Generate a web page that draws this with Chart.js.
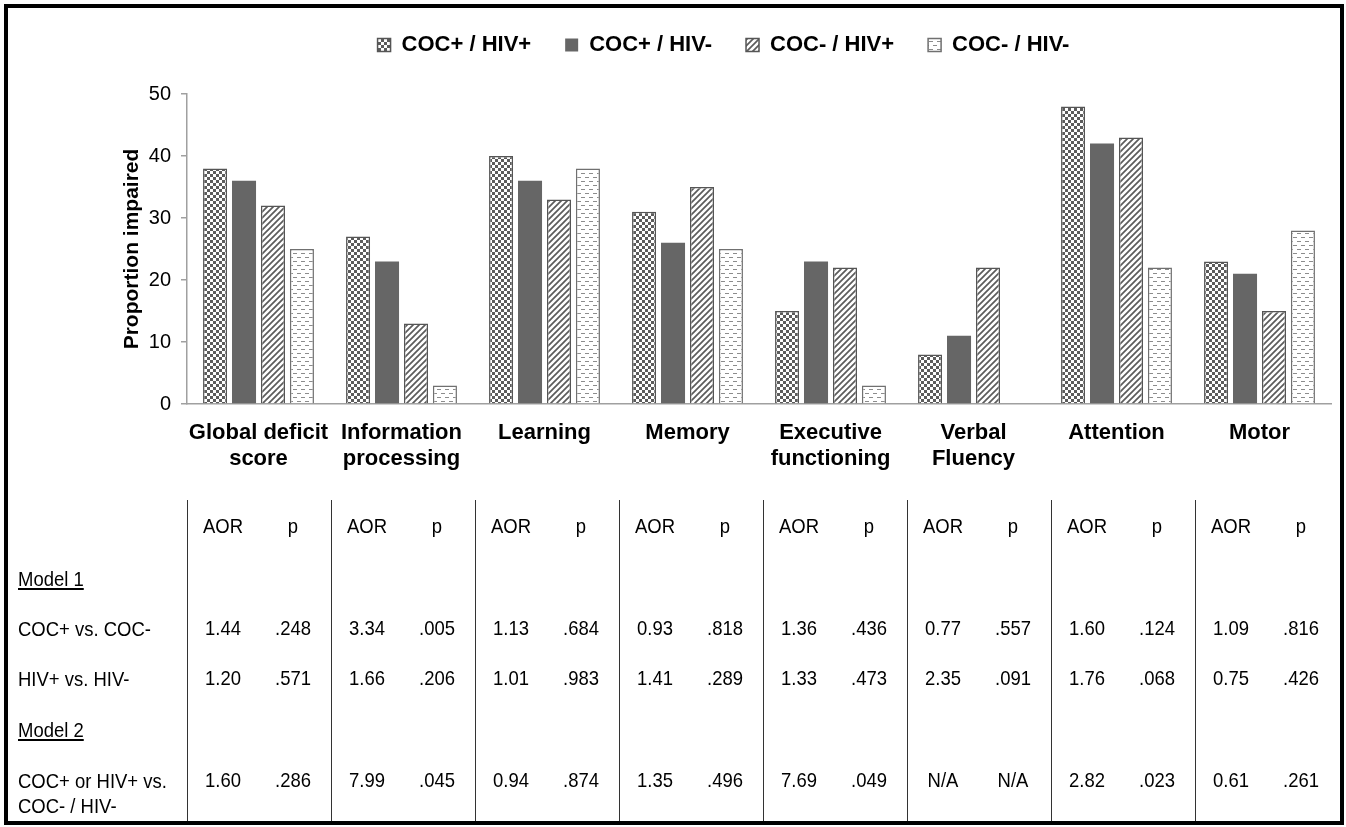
<!DOCTYPE html>
<html>
<head>
<meta charset="utf-8">
<script src="https://cdn.jsdelivr.net/npm/chart.js@4.4.0/dist/chart.umd.min.js"></script>
<style>
  html, body { margin: 0; padding: 0; background: #fff; }
  #page { position: relative; width: 1346px; height: 827px; overflow: hidden; }
  #frame { position: absolute; left: 4px; top: 4px; width: 1340px; height: 821px; box-sizing: border-box; border: 4px solid #000; }
  #chartBox { position: absolute; left: 0; top: 0; width: 1346px; height: 490px; }
  #table { position: absolute; left: 0; top: 0; width: 1346px; height: 827px;
           font-family: 'Liberation Sans', Arial, sans-serif;
           font-size: 21px; color: #000; }
  .vline { position: absolute; width: 1px; background: #333; top: 500px; height: 322px; }
  .cell { position: absolute; width: 72px; text-align: center; line-height: 24px; margin-top: -12px; transform: scaleX(0.88); }
  .rowlabel { position: absolute; left: 18px; line-height: 25px; margin-top: -12px; white-space: nowrap;
              transform: scaleX(0.88); transform-origin: left center; }
  .u { text-decoration: underline; }
</style>
</head>
<body>
<div id="page">
  <div id="chartBox"><canvas id="chart"></canvas></div>
  <div id="table"></div>
  <div id="frame"></div>
</div>
<script>
// bar chart data
const categories = [
  ['Global deficit', 'score'], ['Information', 'processing'], 'Learning', 'Memory',
  ['Executive', 'functioning'], ['Verbal', 'Fluency'], 'Attention', 'Motor'
];
const seriesNames = ['COC+ / HIV+', 'COC+ / HIV-', 'COC- / HIV+', 'COC- / HIV-'];
const cocPosHivPos = [38, 27, 40, 31, 15, 8, 48, 23];
const cocPosHivNeg = [36, 23, 36, 26, 23, 11, 42, 21];
const cocNegHivPos = [32, 13, 33, 35, 22, 22, 43, 15];
const cocNegHivNeg = [25, 3, 38, 25, 3, null, 22, 28];
const yTicks = [0, 10, 20, 30, 40, 50];

// table data
const colHeads = ['AOR', 'p'];
const rowLabels = ['COC+ vs. COC-', 'HIV+ vs. HIV-', 'COC+ or HIV+ vs.<br>COC- / HIV-'];
const cocAor = ['1.44', '3.34', '1.13', '0.93', '1.36', '0.77', '1.60', '1.09'];
const cocP = ['.248', '.005', '.684', '.818', '.436', '.557', '.124', '.816'];
const hivAor = ['1.20', '1.66', '1.01', '1.41', '1.33', '2.35', '1.76', '0.75'];
const hivP = ['.571', '.206', '.983', '.289', '.473', '.091', '.068', '.426'];
const anyAor = ['1.60', '7.99', '0.94', '1.35', '7.69', 'N/A', '2.82', '0.61'];
const anyP = ['.286', '.045', '.874', '.496', '.049', 'N/A', '.023', '.261'];

const DARK = '#5c5c5c';

function makePattern(kind) {
  const c = document.createElement('canvas');
  const g = c.getContext('2d');
  c.width = kind === 'dash' ? 8 : 6;
  c.height = kind === 'dash' ? 8 : 6;
  g.fillStyle = '#fff';
  g.fillRect(0, 0, c.width, c.height);
  if (kind === 'check') {
    g.fillStyle = DARK;
    g.fillRect(0, 0, 3, 3);
    g.fillRect(3, 3, 3, 3);
  } else if (kind === 'hatch') {
    g.strokeStyle = DARK;
    g.lineWidth = 1.7;
    g.beginPath();
    g.moveTo(-1, 7); g.lineTo(7, -1);
    g.moveTo(-4, 4); g.lineTo(4, -4);
    g.moveTo(2, 10); g.lineTo(10, 2);
    g.stroke();
  } else if (kind === 'dash') {
    g.fillStyle = '#8c8c8c';
    g.fillRect(1, 1, 4, 1);
    g.fillRect(5, 5, 3, 1);
    g.fillRect(0, 5, 1, 1);
  }
  return g.createPattern(c, 'repeat');
}

// makes room between legend and plot
const legendSpacer = {
  id: 'legendSpacer',
  beforeInit(chart) {
    const fit = chart.legend.fit;
    chart.legend.fit = function () {
      fit.call(this);
      this.height += 28;
    };
  }
};

const ctx = document.getElementById('chart');
new Chart(ctx, {
  type: 'bar',
  data: {
    labels: categories,
    datasets: [
      { label: seriesNames[0], data: cocPosHivPos, backgroundColor: makePattern('check'), borderColor: '#555', borderWidth: 1.5 },
      { label: seriesNames[1], data: cocPosHivNeg, backgroundColor: '#666666', borderColor: '#666666', borderWidth: 0 },
      { label: seriesNames[2], data: cocNegHivPos, backgroundColor: makePattern('hatch'), borderColor: '#555', borderWidth: 1.5 },
      { label: seriesNames[3], data: cocNegHivNeg, backgroundColor: makePattern('dash'), borderColor: '#707070', borderWidth: 1.5 }
    ]
  },
  plugins: [legendSpacer],
  options: {
    responsive: true,
    maintainAspectRatio: false,
    animation: false,
    layout: { padding: { left: 116, right: 15, top: 0, bottom: 0 } },
    datasets: { bar: { categoryPercentage: 0.81, barPercentage: 0.83 } },
    plugins: {
      tooltip: { enabled: false },
      legend: {
        position: 'top',
        labels: {
          color: '#000',
          boxWidth: 13,
          boxHeight: 13,
          padding: 34,
          font: { family: 'Liberation Sans, Arial, sans-serif', size: 22, weight: 'bold' }
        }
      }
    },
    scales: {
      x: {
        grid: { display: false, drawTicks: false },
        border: { color: '#a0a0a0', width: 1.5 },
        ticks: {
          color: '#000',
          maxRotation: 0,
          autoSkip: false,
          padding: 16,
          font: { family: 'Liberation Sans, Arial, sans-serif', size: 22, weight: 'bold', lineHeight: 1.18 }
        },
        afterFit: s => { s.height = 86; }
      },
      y: {
        min: yTicks[0],
        max: yTicks[yTicks.length - 1],
        afterBuildTicks: s => { s.ticks = yTicks.map(v => ({ value: v })); },
        grid: { drawOnChartArea: false, drawTicks: true, tickLength: 6, color: '#a0a0a0', lineWidth: 1.5 },
        border: { color: '#a0a0a0', width: 1.5 },
        ticks: {
          color: '#000',
          padding: 10,
          font: { family: 'Liberation Sans, Arial, sans-serif', size: 20 }
        },
        title: {
          display: true,
          text: 'Proportion impaired',
          color: '#000',
          font: { family: 'Liberation Sans, Arial, sans-serif', size: 21, weight: 'bold' }
        },
        afterFit: s => { s.width = 71; }
      }
    }
  }
});

// statistics table under the chart
const table = document.getElementById('table');
const colStart = 187, colWidth = 144;
const rowY = { head: 526, m1: 578, coc: 628, hiv: 678, m2: 729, any: 780 };
let html = '';
for (let i = 0; i < categories.length; i++) {
  const x = colStart + i * colWidth;
  html += `<div class="vline" style="left:${x}px"></div>`;
  html += `<div class="cell" style="left:${x}px;top:${rowY.head}px">${colHeads[0]}</div>`;
  html += `<div class="cell" style="left:${x + 70}px;top:${rowY.head}px">${colHeads[1]}</div>`;
  html += `<div class="cell" style="left:${x}px;top:${rowY.coc}px">${cocAor[i]}</div>`;
  html += `<div class="cell" style="left:${x + 70}px;top:${rowY.coc}px">${cocP[i]}</div>`;
  html += `<div class="cell" style="left:${x}px;top:${rowY.hiv}px">${hivAor[i]}</div>`;
  html += `<div class="cell" style="left:${x + 70}px;top:${rowY.hiv}px">${hivP[i]}</div>`;
  html += `<div class="cell" style="left:${x}px;top:${rowY.any}px">${anyAor[i]}</div>`;
  html += `<div class="cell" style="left:${x + 70}px;top:${rowY.any}px">${anyP[i]}</div>`;
}
html += `<div class="rowlabel u" style="top:${rowY.m1}px">Model 1</div>`;
html += `<div class="rowlabel" style="top:${rowY.coc}px">${rowLabels[0]}</div>`;
html += `<div class="rowlabel" style="top:${rowY.hiv}px">${rowLabels[1]}</div>`;
html += `<div class="rowlabel u" style="top:${rowY.m2}px">Model 2</div>`;
html += `<div class="rowlabel" style="top:${rowY.any}px">${rowLabels[2]}</div>`;
table.innerHTML = html;
</script>
</body>
</html>
